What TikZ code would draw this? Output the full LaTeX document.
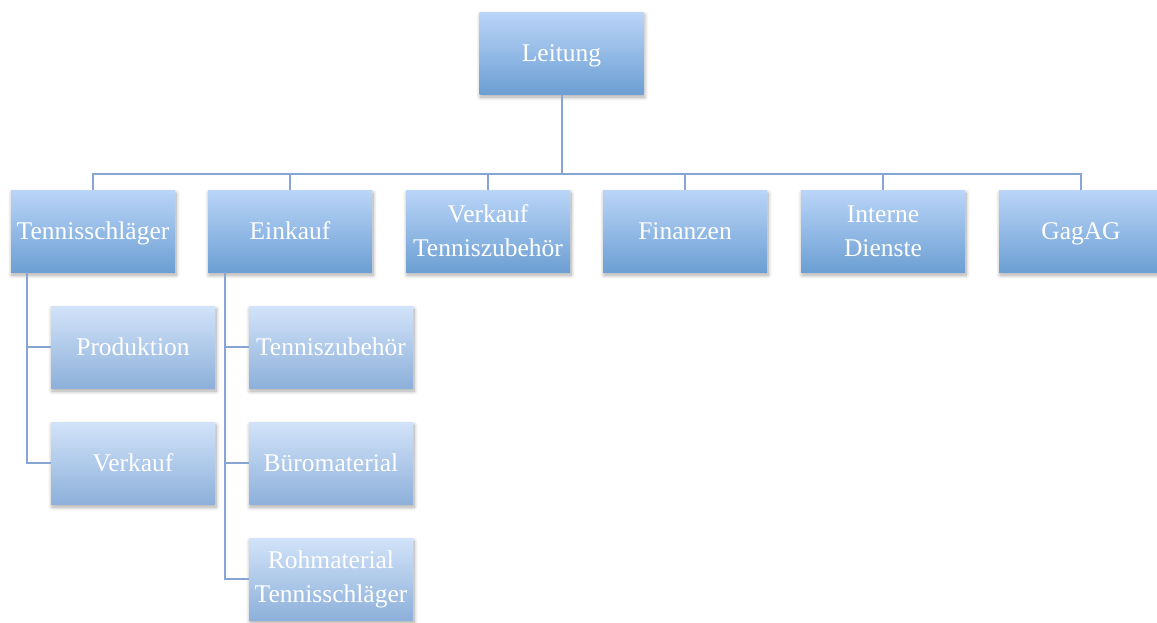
\documentclass[tikz,border=0pt]{standalone}
\usepackage{fontspec}
\setmainfont{Liberation Serif}
\usetikzlibrary{shadows.blur,calc}
\definecolor{linec}{HTML}{86A5D3}
\definecolor{maintop}{HTML}{BAD5F8}
\definecolor{mainbot}{HTML}{6C9FD3}
\definecolor{subtop}{HTML}{D2E3F9}
\definecolor{subbot}{HTML}{8DB0DA}
\tikzset{
  mainbox/.style={rectangle, minimum width=164pt, minimum height=82pt, inner sep=0pt,
    align=center, text=white, font=\fontsize{25.5}{34}\selectfont,
    top color=maintop, bottom color=mainbot,
    blur shadow={shadow xshift=1pt, shadow yshift=-3pt, shadow blur radius=4pt,
      shadow blur steps=8, shadow opacity=35}},
  subbox/.style={mainbox, top color=subtop, bottom color=subbot},
  oneline/.style={text depth=0pt},
  conn/.style={draw=linec, line width=2pt}
}
\begin{document}
\begin{tikzpicture}[x=1pt,y=-1pt]
\useasboundingbox (0,0) rectangle (1157,622);
\clip (0,0) rectangle (1157,622);
% nodes
\node[mainbox,oneline] (lei) at (561.5,53) {Leitung};
\node[mainbox,oneline] (ts) at (93,231) {Tennisschläger};
\node[mainbox,oneline] (ek) at (290,231) {Einkauf};
\node[mainbox] (vt) at (488,231) {Verkauf\\Tenniszubehör};
\node[mainbox,oneline] (fi) at (685,231) {Finanzen};
\node[mainbox] (id) at (883,231) {Interne\\Dienste};
\node[mainbox,oneline] (ga) at (1081,231) {GagAG};
\node[subbox,oneline] (pr) at (133,347) {Produktion};
\node[subbox,oneline] (vk) at (133,463) {Verkauf};
\node[subbox,oneline] (tz) at (331,347) {Tenniszubehör};
\node[subbox,oneline] (bm) at (331,463) {Büromaterial};
\node[subbox] (rm) at (331,579) {Rohmaterial\\Tennisschläger};
% connectors
\foreach \n in {ts,ek,vt,fi,id,ga}{
  \draw[conn] (lei.south) -- ++(0,80) -| (\n.north);
}
\coordinate (tsd) at ($(ts.south west)+(16,0)$);
\coordinate (ekd) at ($(ek.south west)+(17,0)$);
\draw[conn] (tsd) |- (pr.west);
\draw[conn] (tsd) |- (vk.west);
\draw[conn] (ekd) |- (tz.west);
\draw[conn] (ekd) |- (bm.west);
\draw[conn] (ekd) |- (rm.west);
\end{tikzpicture}
\end{document}
